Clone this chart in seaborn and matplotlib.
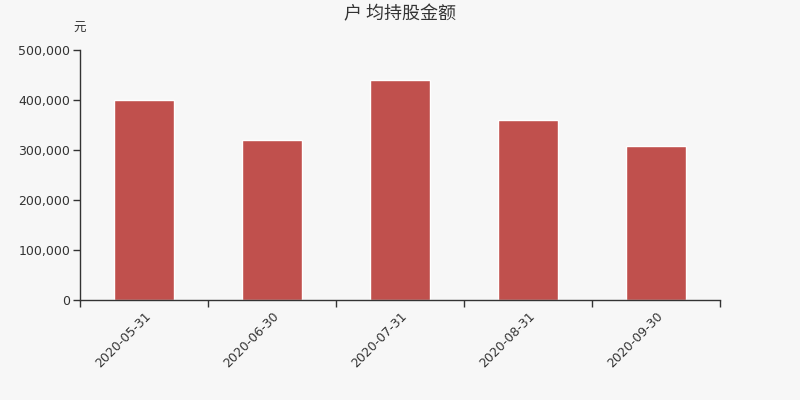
import numpy as np
import pandas as pd
import seaborn as sns
import matplotlib.pyplot as plt
from matplotlib.ticker import FuncFormatter, FixedLocator

# 数据
dates = ["2020-05-31", "2020-06-30", "2020-07-31", "2020-08-31", "2020-09-30"]
amounts = [401000, 320000, 440500, 360000, 309000]

df = pd.DataFrame({"date": dates, "amount": amounts})

sns.set_theme(style="white")
plt.rcParams['font.family'] = ['DejaVu Sans', 'Noto Sans CJK SC']

bg = "#f7f7f7"
fig = plt.figure(figsize=(8, 4), dpi=100, facecolor=bg)
ax = fig.add_axes([0.1, 0.25, 0.8, 0.625])
ax.set_facecolor(bg)

sns.barplot(data=df, x="date", y="amount", color="#c0504d", saturation=1,
            width=0.47, errorbar=None, ax=ax)

ax.set_xlim(-0.5, len(dates) - 0.5)
ax.set_ylim(0, 500000)
ax.set_yticks(np.arange(0, 500001, 100000))
ax.yaxis.set_major_formatter(FuncFormatter(lambda v, p: f"{int(v):,}"))

# x 轴刻度在类别边界
ax.xaxis.set_minor_locator(FixedLocator(np.arange(-0.5, len(dates), 1)))
ax.tick_params(axis="x", which="major", length=0, pad=7)
ax.tick_params(axis="x", which="minor", length=5, width=1, color="#333333", direction="out", bottom=True)
ax.tick_params(axis="y", length=5, width=1, color="#333333", direction="out", left=True, pad=2)
plt.setp(ax.get_xticklabels(), rotation=45, ha="right", rotation_mode="anchor",
         fontsize=9, color="#333333")
plt.setp(ax.get_yticklabels(), fontsize=9, color="#333333")

ax.set_xlabel("")
ax.set_ylabel("")
for s in ["top", "right"]:
    ax.spines[s].set_visible(False)
for s in ["left", "bottom"]:
    ax.spines[s].set_color("#333333")
    ax.spines[s].set_linewidth(1)

fig.text(0.5, 0.965, "户 均持股金额", ha="center", va="center", fontsize=13,
         color="#333333", family=["Noto Sans CJK SC", "DejaVu Sans"])
fig.text(0.1, 0.93, "元", ha="center", va="center", fontsize=9,
         color="#333333", family=["Noto Sans CJK SC", "DejaVu Sans"])

fig.savefig("out.png", dpi=100, facecolor=bg)
